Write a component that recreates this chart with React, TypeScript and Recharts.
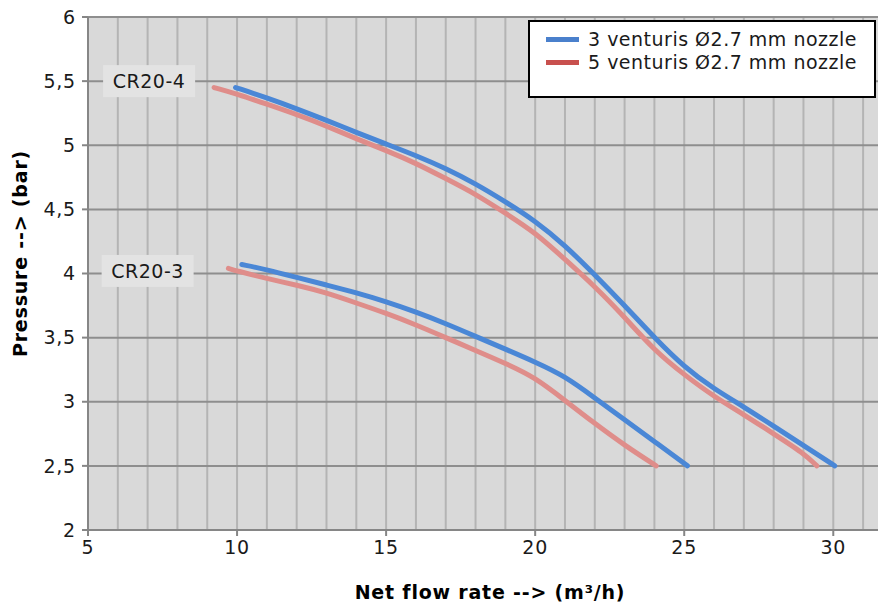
import {
  LineChart,
  Line,
  XAxis,
  YAxis,
  CartesianGrid,
  ReferenceDot,
} from "recharts";

// CR20-4, 3 venturis
const cr204BlueFlow = [9.95, 11, 12, 13, 14, 15, 16, 17, 18, 19, 20, 21, 22, 23, 24, 25, 26, 27, 28, 29, 30.05];
const cr204BluePressure = [5.45, 5.37, 5.285, 5.195, 5.1, 5.01, 4.92, 4.82, 4.7, 4.56, 4.41, 4.22, 3.99, 3.75, 3.5, 3.27, 3.1, 2.96, 2.81, 2.66, 2.5];

// CR20-4, 5 venturis
const cr204RedFlow = [9.23, 10, 11, 12, 13, 14, 15, 16, 17, 18, 19, 20, 21, 22, 23, 24, 25, 26, 27, 28, 29, 29.45];
const cr204RedPressure = [5.45, 5.4, 5.32, 5.24, 5.15, 5.05, 4.96, 4.86, 4.74, 4.62, 4.47, 4.32, 4.11, 3.9, 3.66, 3.4, 3.21, 3.04, 2.9, 2.75, 2.6, 2.5];

// CR20-3, 3 venturis
const cr203BlueFlow = [10.16, 11, 12, 13, 14, 15, 16, 17, 18, 19, 20, 21, 22, 23, 24, 25.11];
const cr203BluePressure = [4.07, 4.03, 3.97, 3.91, 3.85, 3.78, 3.7, 3.61, 3.51, 3.41, 3.31, 3.2, 3.03, 2.86, 2.69, 2.5];

// CR20-3, 5 venturis
const cr203RedFlow = [9.71, 10, 11, 12, 13, 14, 15, 16, 17, 18, 19, 20, 21, 22, 23, 24.06];
const cr203RedPressure = [4.04, 4.02, 3.96, 3.91, 3.85, 3.77, 3.69, 3.6, 3.5, 3.4, 3.3, 3.19, 3.01, 2.83, 2.66, 2.5];

const xTicks = [5, 10, 15, 20, 25, 30];
const yTicks = [2, 2.5, 3, 3.5, 4, 4.5, 5, 5.5, 6];
const xGrid = [5, 6, 7, 8, 9, 10, 11, 12, 13, 14, 15, 16, 17, 18, 19, 20, 21, 22, 23, 24, 25, 26, 27, 28, 29, 30, 31];

const pumpLabels = [
  { name: "CR20-4", flow: 7.05, pressure: 5.5 },
  { name: "CR20-3", flow: 7.0, pressure: 4.02 },
];

const legendItems = [
  { name: "3 venturis Ø2.7 mm nozzle", color: "#4a80cc" },
  { name: "5 venturis Ø2.7 mm nozzle", color: "#c8504e" },
];

const BLUE = "#4a87d6";
const RED = "#df8d8a";
const FONT = "'DejaVu Sans', Verdana, sans-serif";

const zip = (xs: number[], ys: number[]) => xs.map((x, i) => ({ flow: x, pressure: ys[i] }));

const series = [
  { key: "cr204-5", data: zip(cr204RedFlow, cr204RedPressure), color: RED },
  { key: "cr203-5", data: zip(cr203RedFlow, cr203RedPressure), color: RED },
  { key: "cr204-3", data: zip(cr204BlueFlow, cr204BluePressure), color: BLUE },
  { key: "cr203-3", data: zip(cr203BlueFlow, cr203BluePressure), color: BLUE },
];

const PumpTag = ({ cx, cy, name }: any) => (
  <g>
    <rect x={cx - 46} y={cy - 16} width={92} height={32} fill="#e3e3e3" />
    <text
      x={cx}
      y={cy + 7}
      textAnchor="middle"
      fontSize={19}
      letterSpacing={0.5}
      fill="#1a1a1a"
      fontFamily={FONT}
    >
      {name}
    </text>
  </g>
);

const YTitle = ({ viewBox }: any) => {
  const x = viewBox.x + 21;
  const y = viewBox.y + viewBox.height / 2 - 20;
  return (
    <text
      x={x}
      y={y}
      transform={`rotate(-90, ${x}, ${y})`}
      textAnchor="middle"
      dominantBaseline="middle"
      fontSize={19}
      letterSpacing={0.8}
      fontWeight="bold"
      fill="#000"
      fontFamily={FONT}
    >
      Pressure --&gt; (bar)
    </text>
  );
};

const XTitle = ({ viewBox }: any) => (
  <text
    x={viewBox.x + viewBox.width / 2 + 7}
    y={599}
    textAnchor="middle"
    fontSize={19}
    letterSpacing={0.8}
    fontWeight="bold"
    fill="#000"
    fontFamily={FONT}
  >
    Net flow rate --&gt; (m³/h)
  </text>
);

const tickStyle = { fill: "#1a1a1a", fontSize: 19, fontFamily: FONT, letterSpacing: 0.8 };

const App = () => {
  return (
    <div style={{ position: "absolute", left: 0, top: 0, width: 878, height: 609, background: "#fff" }}>
      <LineChart width={878} height={609} margin={{ top: 17, right: 0, left: 0, bottom: 0 }}>
        <CartesianGrid
          horizontal={false}
          verticalValues={xGrid}
          fill="#d9d9d9"
          stroke="#b4b4b4"
          strokeWidth={2}
        />
        <CartesianGrid vertical={false} stroke="#8e8e8e" strokeWidth={2} />
        <XAxis
          type="number"
          dataKey="flow"
          domain={[5, 31.5]}
          ticks={xTicks}
          allowDataOverflow
          height={79}
          stroke="#868686"
          strokeWidth={2}
          tickSize={6}
          tick={tickStyle}
          tickMargin={5}
          label={<XTitle />}
        />
        <YAxis
          type="number"
          dataKey="pressure"
          domain={[2, 6]}
          ticks={yTicks}
          width={88}
          stroke="#868686"
          strokeWidth={2}
          tickSize={6}
          tickMargin={6}
          tick={tickStyle}
          tickFormatter={(v: number) => String(v).replace(".", ",")}
          label={<YTitle />}
        />
        {series.map((s) => (
          <Line
            key={s.key}
            data={s.data}
            dataKey="pressure"
            type="basis"
            stroke={s.color}
            strokeWidth={5}
            strokeLinecap="round"
            dot={false}
            activeDot={false}
            isAnimationActive={false}
          />
        ))}
        {pumpLabels.map((p) => (
          <ReferenceDot
            key={p.name}
            x={p.flow}
            y={p.pressure}
            ifOverflow="visible"
            shape={(props: any) => <PumpTag {...props} name={p.name} />}
          />
        ))}
      </LineChart>
      <div
        style={{
          position: "absolute",
          left: 528,
          top: 20,
          width: 344,
          height: 74,
          border: "2px solid #000",
          background: "#fff",
          fontFamily: FONT,
          fontSize: 19,
          letterSpacing: 0.5,
          color: "#1a1a1a",
          boxSizing: "content-box",
        }}
      >
        {legendItems.map((item, i) => (
          <div
            key={item.name}
            style={{
              position: "absolute",
              left: 16,
              top: 6 + i * 23,
              display: "flex",
              alignItems: "center",
              whiteSpace: "nowrap",
              lineHeight: "23px",
            }}
          >
            <span style={{ display: "inline-block", width: 33, height: 5, background: item.color, marginRight: 9 }} />
            <span>{item.name}</span>
          </div>
        ))}
      </div>
    </div>
  );
};

export default App;
